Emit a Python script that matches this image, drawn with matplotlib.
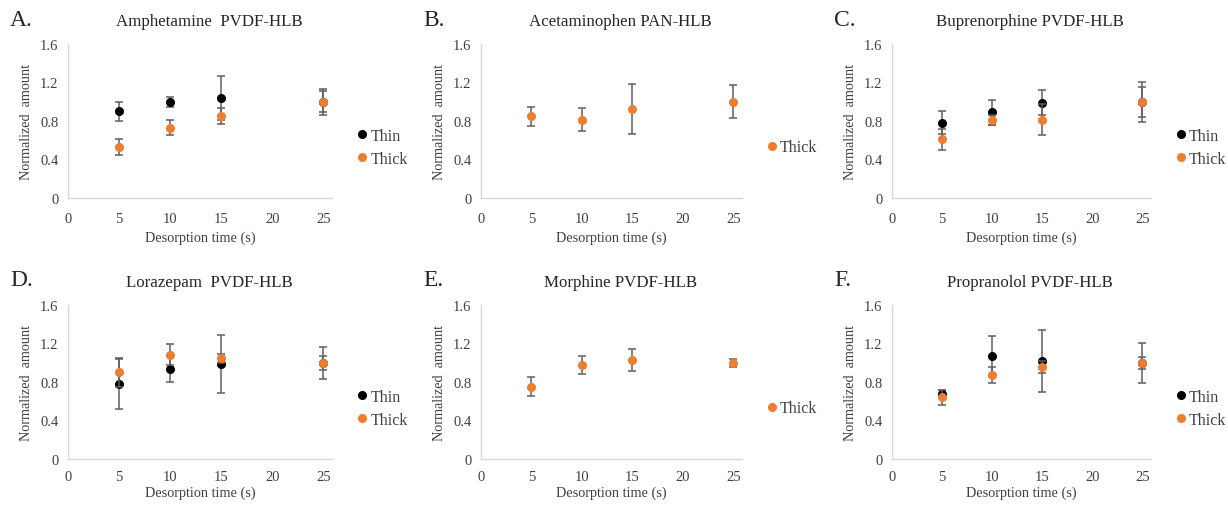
import numpy as np
import matplotlib
matplotlib.use("Agg")
import matplotlib.pyplot as plt

plt.rcParams['font.family'] = ['Liberation Serif', 'DejaVu Serif']

# desorption times (s)
time = [5, 10, 15, 25]

titles = ["Amphetamine  PVDF-HLB", "Acetaminophen PAN-HLB", "Buprenorphine PVDF-HLB",
          "Lorazepam  PVDF-HLB", "Morphine PVDF-HLB", "Propranolol PVDF-HLB"]
letters = ["A.", "B.", "C.", "D.", "E.", "F."]

# normalized amounts, None = series not measured
thin_vals = [[0.90, 1.00, 1.04, 1.00], None, [0.78, 0.89, 0.99, 1.00],
             [0.775, 0.94, 0.985, 1.00], None, [0.675, 1.068, 1.016, 1.00]]
thin_err = [[0.10, 0.05, 0.23, 0.135], None, [0.12, 0.13, 0.13, 0.21],
            [0.26, 0.135, 0.30, 0.165], None, [0.045, 0.21, 0.32, 0.21]]
thick_vals = [[0.53, 0.73, 0.85, 1.00], [0.85, 0.815, 0.925, 1.00], [0.61, 0.81, 0.815, 1.00],
              [0.90, 1.085, 1.045, 1.00], [0.75, 0.975, 1.03, 1.00], [0.64, 0.873, 0.953, 1.00]]
thick_err = [[0.08, 0.076, 0.086, 0.11], [0.10, 0.115, 0.26, 0.17], [0.11, 0.055, 0.16, 0.155],
             [0.15, 0.11, 0.05, 0.073], [0.10, 0.097, 0.113, 0.04], [0.08, 0.085, 0.063, 0.062]]

W, H = 1228, 506
fig = plt.figure(figsize=(W / 100, H / 100), dpi=100)

# plot area boxes in pixels: left, right, top, bottom
lefts = [68, 481, 892]
rights = [332, 742, 1151]
tops = [45, 306]
bottoms = [199, 460]

ORANGE = '#ED7D31'
ERRC = '#5f5f5f'

for i in range(6):
	r, c = divmod(i, 3)
	l, rt, t, b = lefts[c], rights[c], tops[r], bottoms[r]
	ax = fig.add_axes([l / W, 1 - b / H, (rt - l) / W, (b - t) / H])

	if thin_vals[i] is not None:
		ax.errorbar(time, thin_vals[i], yerr=thin_err[i], fmt='none', ecolor=ERRC,
		            elinewidth=1.1, capsize=2.8, capthick=1.1)
		ax.plot(time, thin_vals[i], 'o', color='black', ms=5.5, label='Thin')
	ax.errorbar(time, thick_vals[i], yerr=thick_err[i], fmt='none', ecolor=ERRC,
	            elinewidth=1.1, capsize=2.8, capthick=1.1)
	ax.plot(time, thick_vals[i], 'o', color=ORANGE, ms=5.5, label='Thick')

	ax.set_xlim(0, 25.85)
	ax.set_ylim(0, 1.6)
	ax.set_xticks([0, 5, 10, 15, 20, 25])
	ax.set_yticks([0, 0.4, 0.8, 1.2, 1.6])
	ax.set_yticklabels(['0', '0.4', '0.8', '1.2', '1.6'])
	ax.tick_params(length=0, labelsize=10.5, colors='#404040', pad=7)
	ax.tick_params(axis='x', pad=10 if r == 0 else 8)
	for s in ['top', 'right']:
		ax.spines[s].set_visible(False)
	for s in ['left', 'bottom']:
		ax.spines[s].set_color('#d9d9d9')
		ax.spines[s].set_linewidth(1.0)
	ax.set_xlabel('Desorption time (s)', fontsize=10.3, color='#404040',
	              labelpad=4 if r == 0 else 2)
	ax.set_ylabel('Normalized  amount', fontsize=10.2, color='#404040', labelpad=5)
	ax.set_title(titles[i], fontsize=12.2, color='#262626', pad=14, x=0.534)

	ax.legend(loc='center left', bbox_to_anchor=(1.06, 0.33), frameon=False,
	          fontsize=11.5, handlelength=0.8, handletextpad=0.1, labelspacing=0.45,
	          borderpad=0, labelcolor='#404040')

	fig.text((l - 58) / W, 1 - (t - 25) / H, letters[i], fontsize=17, color='#262626',
	         ha='left', va='center')

fig.savefig('out.png', dpi=100)
